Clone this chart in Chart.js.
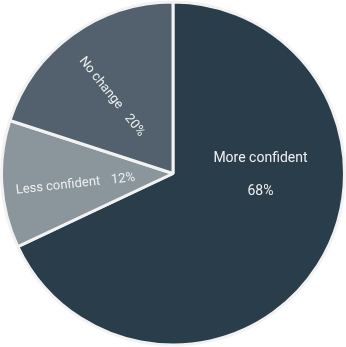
<!DOCTYPE html>
<html>
<head>
<meta charset="utf-8">
<script src="https://cdn.jsdelivr.net/npm/chart.js@4/dist/chart.umd.min.js"></script>
<style>
html,body{margin:0;padding:0;background:#fff;}
#wrap{width:346px;height:347px;position:relative;}
</style>
</head>
<body>
<div id="wrap"><canvas id="c"></canvas></div>
<script>
const categories = ["More confident", "Less confident", "No change"];
const values = [68, 12, 20];
const valueLabels = ["68%", "12%", "20%"];
const colors = ["#2a3d4b", "#8a959c", "#52616d"];

const labelPlugin = {
  id: 'sliceLabels',
  afterDatasetsDraw(chart) {
    const ctx = chart.ctx;
    const meta = chart.getDatasetMeta(0);
    const maxIdx = values.indexOf(Math.max(...values));
    ctx.save();
    ctx.fillStyle = '#eef0f1';
    ctx.textBaseline = 'middle';
    meta.data.forEach((arc, i) => {
      const p = arc.getProps(['x','y','startAngle','endAngle','outerRadius'], true);
      if (i === maxIdx) {
        ctx.font = '14px Roboto';
        ctx.textAlign = 'center';
        const cx = p.x + p.outerRadius * 0.51;
        ctx.fillText(categories[i], cx, p.y - 15.5);
        ctx.fillText(valueLabels[i], cx, p.y + 17.5);
        return;
      }
      ctx.font = '13px Roboto';
      const mid = (p.startAngle + p.endAngle) / 2 - 0.045;
      const r = p.outerRadius * 0.572;
      const tx = p.x + Math.cos(mid) * r;
      const ty = p.y + Math.sin(mid) * r;
      ctx.save();
      ctx.translate(tx, ty);
      ctx.rotate(mid + Math.PI);
      const gap = 11;
      const w1 = ctx.measureText(categories[i]).width;
      const w2 = ctx.measureText(valueLabels[i]).width;
      const total = w1 + gap + w2;
      ctx.textAlign = 'left';
      ctx.fillText(categories[i], -total / 2, 0);
      ctx.fillText(valueLabels[i], -total / 2 + w1 + gap, 0);
      ctx.restore();
    });
    ctx.restore();
  }
};

new Chart(document.getElementById('c'), {
  type: 'pie',
  data: {
    labels: categories,
    datasets: [{
      data: values,
      backgroundColor: colors,
      borderColor: '#f2f2f2',
      borderWidth: 3
    }]
  },
  options: {
    responsive: true,
    maintainAspectRatio: false,
    animation: false,
    layout: { padding: 0 },
    plugins: {
      legend: { display: false },
      tooltip: { enabled: false }
    }
  },
  plugins: [labelPlugin]
});
</script>
</body>
</html>
